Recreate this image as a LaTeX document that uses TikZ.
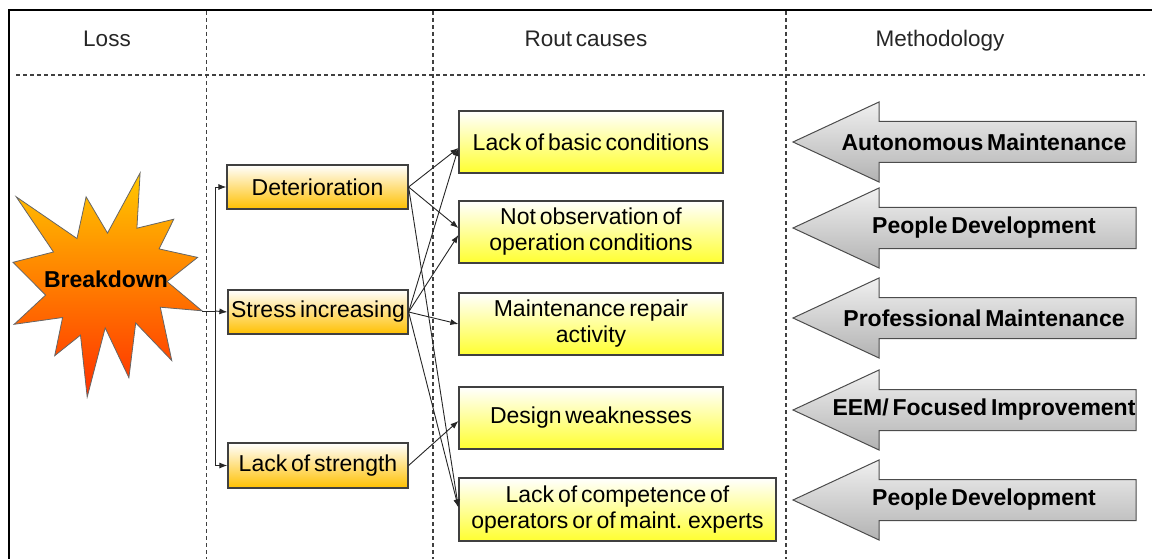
\documentclass[tikz,border=0pt]{standalone}
\usepackage{fontspec}
\setmainfont{Liberation Sans}[WordSpace=0.6]
\usetikzlibrary{arrows.meta}
\definecolor{orangeB}{HTML}{FFC000}
\definecolor{yellowB}{HTML}{FFFF30}
\definecolor{starTop}{HTML}{FFC800}
\definecolor{starBot}{HTML}{FF3000}
\definecolor{boxline}{HTML}{404040}
\tikzset{
  every node/.style={inner sep=0pt},
  txt/.style={font=\fontsize{23}{26}\selectfont, align=center},
  hdr/.style={font=\fontsize{22.5}{26}\selectfont, text=black!85, anchor=base},
  midbox/.style={txt, draw=boxline, line width=1.2pt, top color=white, bottom color=orangeB},
  rootbox/.style={txt, draw=boxline, line width=1.2pt, top color=white, bottom color=yellowB},
  metharrow/.style={draw=black!70, line width=1pt, top color=gray!12, middle color=white, bottom color=gray!60},
  methtxt/.style={font=\fontsize{23}{26}\selectfont\bfseries},
  grid/.style={draw=black!75, line width=1.1pt, dash pattern=on 4pt off 3pt},
  conn/.style={draw=black!85, line width=0.9pt, -{Latex[length=8pt,width=6pt]}},
  plain/.style={draw=black!85, line width=0.9pt},
}
\begin{document}
\begin{tikzpicture}[x=1pt,y=-1pt]
\useasboundingbox (0,0) rectangle (1152,559);
% frame
\draw[line width=2pt] (9,559) -- (9,10.5) -- (1152,10.5);
% grid
\draw[grid] (16,75) -- (1145,75);
\draw[grid] (206.5,11) -- (206.5,559);
\draw[grid] (433,11) -- (433,559);
\draw[grid] (786,11) -- (786,559);
% headers
\node[hdr] (hloss) at (107,47) {Loss};
\node[hdr] (hroot) at (586,47) {Rout causes};
\node[hdr] (hmeth) at (940,47) {Methodology};
% star
\shade[top color=starTop, bottom color=starBot]
  (107.5,233.1) -- (140.1,173) -- (136.9,228.2) -- (173.8,219.2) -- (159.1,248.9)
  -- (197.6,257.4) -- (167.1,281.6) -- (202,310.8) -- (160.3,307.2) -- (171.8,360.6)
  -- (135.7,322.9) -- (128.9,377.7) -- (105.2,327.9) -- (87.2,397) -- (80.5,335.1)
  -- (54.7,355.7) -- (62.6,317.5) -- (14.2,324.3) -- (45.6,295.1) -- (13,262.3)
  -- (53.5,252) -- (16.2,196.8) -- (77,238.5) -- (86.1,196.8) -- cycle;
\draw[draw=black!60, line width=0.8pt]
  (107.5,233.1) -- (140.1,173) -- (136.9,228.2) -- (173.8,219.2) -- (159.1,248.9)
  -- (197.6,257.4) -- (167.1,281.6) -- (202,310.8) -- (160.3,307.2) -- (171.8,360.6)
  -- (135.7,322.9) -- (128.9,377.7) -- (105.2,327.9) -- (87.2,397) -- (80.5,335.1)
  -- (54.7,355.7) -- (62.6,317.5) -- (14.2,324.3) -- (45.6,295.1) -- (13,262.3)
  -- (53.5,252) -- (16.2,196.8) -- (77,238.5) -- (86.1,196.8) -- cycle;
\node[methtxt] (bd) at (106,279) {Breakdown};
\coordinate (bdtip) at (202,311);
\coordinate (jn) at (215,311);
% middle boxes
\node[midbox, minimum width=181pt, minimum height=44pt] (det) at (317.5,187) {Deterioration};
\node[midbox, minimum width=180pt, minimum height=44pt] (stress) at (318,312) {Stress increasing};
\node[midbox, minimum width=180pt, minimum height=45pt] (los) at (318,465.5) {Lack of strength};
% root boxes
\node[rootbox, minimum width=264pt, minimum height=62pt] (lbc) at (591,142) {Lack of basic conditions};
\node[rootbox, minimum width=264pt, minimum height=62pt] (nobs) at (591,232) {Not observation of\\operation conditions};
\node[rootbox, minimum width=264pt, minimum height=62pt] (mra) at (591,324) {Maintenance repair\\activity};
\node[rootbox, minimum width=264pt, minimum height=62pt] (dw) at (591,418) {Design weaknesses};
\node[rootbox, minimum width=317pt, minimum height=63pt] (lcomp) at (617.5,509.5) {Lack of competence of\\operators or of maint. experts};
% connectors
\draw[plain] (bdtip) -- (jn);
\draw[conn] (jn) -- (stress.west);
\draw[conn] (jn) |- (det.west);
\draw[conn] (jn) |- (los.west);
\draw[conn] (det.east) -- ([yshift=-6pt]lbc.west);
\draw[conn] (det.east) -- ([yshift=4pt]nobs.west);
\draw[conn] (det.east) -- ([yshift=2pt]lcomp.west);
\draw[conn] (stress.east) -- ([yshift=-6pt]lbc.west);
\draw[conn] (stress.east) -- ([yshift=-3pt]nobs.west);
\draw[conn] (stress.east) -- (mra.west);
\draw[conn] (stress.east) -- ([yshift=2pt]lcomp.west);
\draw[conn] (los.east) -- ([yshift=-3pt]dw.west);
% methodology arrows
\foreach \yc in {142,228,318,410,500}{
  \draw[metharrow] (793,\yc) -- (879,\yc-40) -- (879,\yc-20.5) -- (1136,\yc-20.5)
    -- (1136,\yc+20.5) -- (879,\yc+20.5) -- (879,\yc+40) -- cycle;
}
\node[methtxt] (m1) at (984,142) {Autonomous Maintenance};
\node[methtxt] (m2) at (984,228) {People Development};
\node[methtxt] (m3) at (984,318) {Professional Maintenance};
\node[methtxt] (m4) at (984,410) {EEM/ Focused Improvement};
\node[methtxt] (m5) at (984,500) {People Development};
\end{tikzpicture}
\end{document}
